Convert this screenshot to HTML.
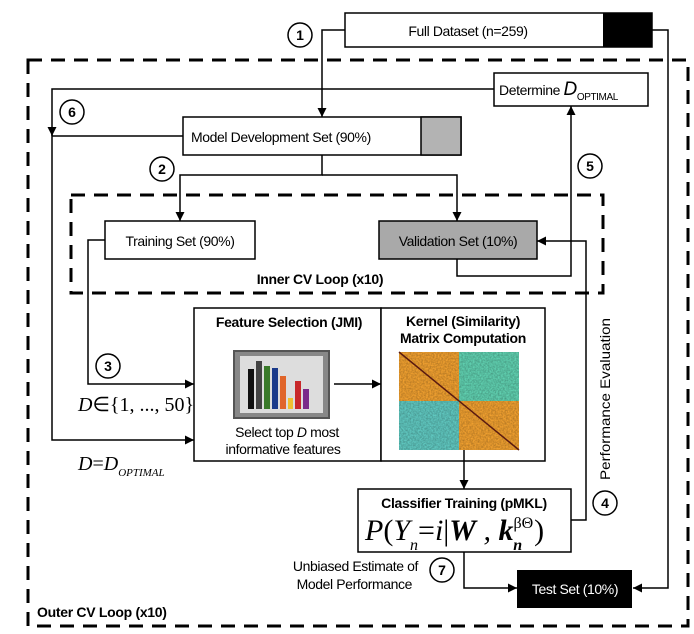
<!DOCTYPE html>
<html><head><style>
body{margin:0;background:#fff;}
svg{display:block;font-family:"Liberation Sans",Arial,sans-serif;}
</style></head><body>
<svg width="694" height="634" viewBox="0 0 694 634" xmlns="http://www.w3.org/2000/svg">
<defs>
<marker id="a" viewBox="0 0 10 10" refX="10" refY="5" markerWidth="9" markerHeight="9" markerUnits="userSpaceOnUse" orient="auto"><path d="M0,0 L10,5 L0,10 z" fill="#000"/></marker>
<filter id="n" x="0" y="0" width="100%" height="100%">
<feTurbulence type="fractalNoise" baseFrequency="0.6" numOctaves="2" seed="3"/>
<feColorMatrix type="matrix" values="0 0 0 0 0  0 0 0 0 0  0 0 0 0 0  0 0 0 1.2 -0.3"/>
<feComposite in2="SourceGraphic" operator="in"/>
</filter>
</defs>
<g fill="none" stroke="#000" stroke-width="3" stroke-dasharray="14,9">
<rect x="28" y="60" width="660" height="566"/>
<rect x="71" y="195" width="532" height="98"/>
</g>
<g stroke="#000" stroke-width="1.5" fill="none">
<rect x="345" y="13" width="307" height="34" fill="#fff"/>
<rect x="183" y="117" width="278" height="38" fill="#fff"/>
<rect x="494" y="73" width="154" height="33" fill="#fff"/>
<rect x="105" y="221" width="150" height="38" fill="#fff"/>
<rect x="379" y="221" width="158" height="38" fill="#a9a9a9"/>
<rect x="194" y="308" width="187" height="153" fill="#fff"/>
<rect x="381" y="308" width="164" height="153" fill="#fff"/>
<rect x="358" y="489" width="213" height="63" fill="#fff"/>
</g>
<rect x="603" y="13" width="49" height="34" fill="#000"/>
<rect x="421" y="117" width="40" height="38" fill="#b3b3b3" stroke="#000" stroke-width="1.5"/>
<rect x="517" y="570" width="115" height="38" fill="#000"/>
<g stroke="#000" stroke-width="1.5" fill="none">
<polyline points="345,30 322,30 322,117" marker-end="url(#a)"/>
<polyline points="652,30 668,30 668,588 633,588" marker-end="url(#a)"/>
<polyline points="494,89 52,89 52,136" marker-end="url(#a)"/>
<polyline points="52,130 52,440 194,440" marker-end="url(#a)"/>
<line x1="183" y1="136" x2="52" y2="136"/>
<polyline points="322,155 322,175 180,175 180,221" marker-end="url(#a)"/>
<polyline points="322,175 457,175 457,221" marker-end="url(#a)"/>
<polyline points="457,259 457,276 571,276 571,106" marker-end="url(#a)"/>
<polyline points="571,520 586,520 586,241 537,241" marker-end="url(#a)"/>
<polyline points="105,240 88,240 88,384 194,384" marker-end="url(#a)"/>
<line x1="334" y1="384" x2="381" y2="384" marker-end="url(#a)"/>
<line x1="464" y1="450" x2="464" y2="489" marker-end="url(#a)"/>
<polyline points="464,552 464,588 517,588" marker-end="url(#a)"/>
</g>
<g fill="#fff" stroke="#000" stroke-width="1.5">
<circle cx="300" cy="35" r="12"/><circle cx="72" cy="112" r="12"/>
<circle cx="162" cy="169" r="12"/><circle cx="590" cy="166" r="12"/>
<circle cx="108" cy="366" r="12"/><circle cx="605" cy="503" r="12"/>
<circle cx="442" cy="570" r="12"/>
</g>
<g font-weight="bold" font-size="14" text-anchor="middle">
<text x="300" y="40">1</text><text x="72" y="117">6</text><text x="162" y="174">2</text>
<text x="590" y="171">5</text><text x="108" y="371">3</text><text x="605" y="508">4</text><text x="442" y="575">7</text>
</g>
<g font-size="14" letter-spacing="-0.4">
<text x="468" y="36" text-anchor="middle">Full Dataset (n=259)</text>
<text x="191" y="142">Model Development Set (90%)</text>
<text x="499" y="95">Determine <tspan font-style="italic" font-size="19">D</tspan><tspan font-size="10" dy="5">OPTIMAL</tspan></text>
<text x="180" y="246" text-anchor="middle">Training Set (90%)</text>
<text x="458" y="246" text-anchor="middle">Validation Set (10%)</text>
<text x="287" y="437" text-anchor="middle">Select top <tspan font-style="italic">D</tspan> most</text>
<text x="283" y="454" text-anchor="middle">informative features</text>
<text x="418" y="571" text-anchor="end">Unbiased Estimate of</text>
<text x="412" y="589" text-anchor="end">Model Performance</text>
<text x="575" y="594" text-anchor="middle" fill="#fff">Test Set (10%)</text>
</g>
<text transform="translate(610,480) rotate(-90)" font-size="14" textLength="162" lengthAdjust="spacingAndGlyphs">Performance Evaluation</text>
<g font-size="14" font-weight="bold" letter-spacing="-0.3">
<text x="320" y="284" text-anchor="middle">Inner CV Loop (x10)</text>
<text x="289" y="327" text-anchor="middle">Feature Selection (JMI)</text>
<text x="463" y="326" text-anchor="middle">Kernel (Similarity)</text>
<text x="463" y="343" text-anchor="middle">Matrix Computation</text>
<text x="464" y="508" text-anchor="middle">Classifier Training (pMKL)</text>
<text x="37" y="617">Outer CV Loop (x10)</text>
</g>
<g font-family="Liberation Serif,serif" font-style="italic">
<text x="78" y="411" font-size="20">D<tspan font-style="normal">∈{1, ..., 50}</tspan></text>
<text x="78" y="470" font-size="20">D<tspan font-style="normal">=</tspan>D<tspan font-size="11" dy="6">OPTIMAL</tspan></text>
<text x="365" y="540" font-size="30">P<tspan font-style="normal">(</tspan>Y<tspan font-size="16" dy="10">n</tspan><tspan dy="-10" font-style="normal">=</tspan>i<tspan font-style="normal">|</tspan><tspan font-weight="bold">W</tspan> , <tspan font-weight="bold">k</tspan><tspan font-size="16" dy="-12" font-style="normal">βΘ</tspan><tspan font-size="16" dx="-20" dy="22" font-weight="bold">n</tspan><tspan dy="-10" dx="12" font-style="normal">)</tspan></text>
</g>
<rect x="234" y="351" width="95" height="67" fill="#888" stroke="#555" stroke-width="2"/>
<rect x="240" y="356" width="83" height="57" fill="#ddd"/>
<rect x="248" y="369" width="6" height="40" fill="#111"/>
<rect x="256" y="361" width="6" height="48" fill="#444"/>
<rect x="264" y="366" width="6" height="43" fill="#3a7a2a"/>
<rect x="272" y="368" width="6" height="41" fill="#1a3a8a"/>
<rect x="280" y="376" width="6" height="33" fill="#e0652a"/>
<rect x="288" y="398" width="5" height="11" fill="#f0c030"/>
<rect x="295" y="381" width="6" height="28" fill="#c8282a"/>
<rect x="303" y="389" width="6" height="20" fill="#7a2a8a"/>
<g>
<rect x="399" y="352" width="60" height="49" fill="#f0a030"/>
<rect x="459" y="352" width="60" height="49" fill="#60d0b0"/>
<rect x="399" y="401" width="60" height="49" fill="#60c8c0"/>
<rect x="459" y="401" width="60" height="49" fill="#f0a030"/>
<rect x="399" y="352" width="120" height="98" fill="#d03020" filter="url(#n)" opacity="0.35"/>
<line x1="399" y1="352" x2="519" y2="450" stroke="#5a1a10" stroke-width="1.5"/>
</g>
</svg>
</body></html>
